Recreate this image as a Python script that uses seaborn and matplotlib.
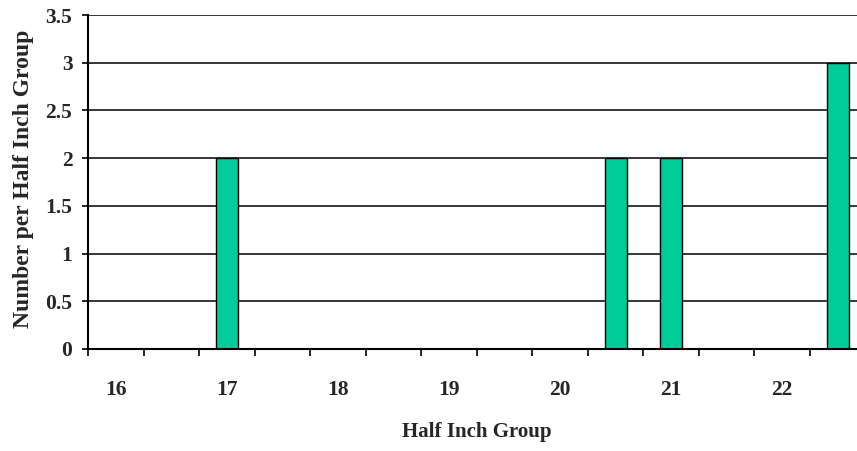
import matplotlib
matplotlib.use("Agg")
import matplotlib.pyplot as plt
import seaborn as sns
import pandas as pd
from matplotlib.ticker import FixedLocator

# Half-inch groups and how many fall into each
groups = ["16", "16.5", "17", "17.5", "18", "18.5", "19", "19.5",
          "20", "20.5", "21", "21.5", "22", "22.5"]
counts = [0, 0, 2, 0, 0, 0, 0, 0, 0, 2, 2, 0, 0, 3]
shown_labels = ["16", "17", "18", "19", "20", "21", "22"]
y_ticks = [0, 0.5, 1, 1.5, 2, 2.5, 3, 3.5]

df = pd.DataFrame({"group": groups, "count": counts})

sns.set_style("white")
plt.rcParams["font.family"] = ["Liberation Serif", "DejaVu Serif"]
plt.rcParams["font.weight"] = "bold"

fig = plt.figure(figsize=(8.57, 4.51), dpi=100)
# plot area runs slightly past the right edge of the figure
ax = fig.add_axes([88.3 / 857, 1 - 349 / 451, (865.5 - 88.3) / 857, (349 - 15) / 451])

sns.barplot(data=df, x="group", y="count", order=groups, color="#00CC99",
            width=0.4, edgecolor="black", linewidth=1.0, saturation=1,
            ax=ax, zorder=3)

ax.set_xlim(-0.5, len(groups) - 0.5)
ax.set_ylim(0, 3.5)

# category boundaries carry the tick marks, every other category carries a label
ax.xaxis.set_minor_locator(FixedLocator([i - 0.5 for i in range(len(groups) + 1)]))
ax.set_xticks([groups.index(s) for s in shown_labels])
ax.set_xticklabels(shown_labels)
ax.tick_params(axis="x", which="major", length=0, pad=22, labelsize=15.5)
ax.tick_params(axis="x", which="minor", length=5, width=1.2, direction="out",
               color="black", bottom=True)

ax.set_yticks(y_ticks)
ax.set_yticklabels([f"{v:g}" for v in y_ticks])
ax.tick_params(axis="y", length=4.5, width=1.2, direction="out", pad=7,
               labelsize=15.5, color="black", left=True)

ax.yaxis.grid(True, color="black", linewidth=1.1)
ax.xaxis.grid(False)
ax.set_axisbelow(True)

for side in ["top", "right"]:
    ax.spines[side].set_visible(False)
for side in ["left", "bottom"]:
    ax.spines[side].set_color("black")
    ax.spines[side].set_linewidth(1.5)
    ax.spines[side].set_zorder(4)

ax.set_xlabel("")
ax.set_ylabel("")
fig.text(477 / 857, 1 - 432 / 451, "Half Inch Group", ha="center", va="center",
         fontsize=15, fontweight="bold")
fig.text(24 / 857, 1 - 179 / 451, "Number per Half Inch Group", ha="center",
         va="center", rotation=90, fontsize=17, fontweight="bold")

fig.savefig("out.png", dpi=100)
